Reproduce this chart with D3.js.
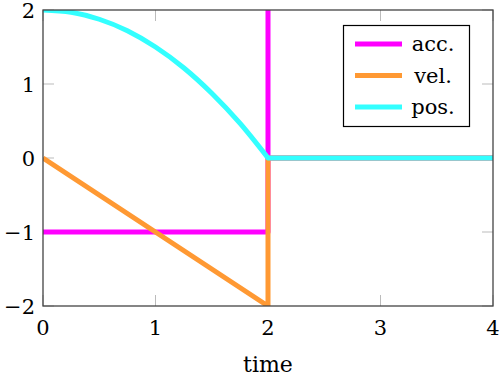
<!DOCTYPE html>
<html>
<head>
<meta charset="utf-8">
<script src="https://cdn.jsdelivr.net/npm/d3@7"></script>
<style>
  body { margin: 0; background: #fff; }
</style>
</head>
<body>
<svg id="chart" width="500" height="378"></svg>
<script>
// series: [time, value]
var accData = [[0, -1], [2, -1], [2, 40], [2, 0], [4, 0]];
var velData = [[0, 0], [2, -2], [2, 0], [4, 0]];
var posData = [[0, 2], [0.25, 1.97], [0.5, 1.875], [0.75, 1.72], [1, 1.5],
               [1.25, 1.22], [1.5, 0.875], [1.75, 0.47], [2, 0]];
var posTail = [[2, 0], [4, 0]];

var xTicks = [0, 1, 2, 3, 4];
var yTicks = [-2, -1, 0, 1, 2];
var seriesNames = ["acc.", "vel.", "pos."];
var seriesColors = ["#ff00ff", "#ff9933", "#33ffff"];

var svg = d3.select("#chart")
  .attr("font-family", "'DejaVu Serif', serif");
// plot box in pixels (note: "top" is taken by window.top)
var plotL = 43, plotR = 493, plotT = 10, plotB = 306;
var fontSize = 21;

var x = d3.scaleLinear().domain([0, 4]).range([plotL, plotR]);
var y = d3.scaleLinear().domain([-2, 2]).range([plotB, plotT]);

svg.append("defs").append("clipPath").attr("id", "plotclip")
  .append("rect")
    .attr("x", plotL).attr("y", plotT)
    .attr("width", plotR - plotL).attr("height", plotB - plotT);

// inner tick marks (gray)
var tickLen = 11;
var ticks = svg.append("g").attr("stroke", "#bbb").attr("stroke-width", 1);
xTicks.forEach(function(t) {
  ticks.append("line").attr("x1", x(t)).attr("x2", x(t)).attr("y1", plotB).attr("y2", plotB - tickLen);
  ticks.append("line").attr("x1", x(t)).attr("x2", x(t)).attr("y1", plotT).attr("y2", plotT + tickLen);
});
yTicks.forEach(function(t) {
  ticks.append("line").attr("x1", plotL).attr("x2", plotL + tickLen).attr("y1", y(t)).attr("y2", y(t));
  ticks.append("line").attr("x1", plotR).attr("x2", plotR - tickLen).attr("y1", y(t)).attr("y2", y(t));
});

// tick labels
svg.append("g").selectAll("text")
  .data(xTicks)
  .enter().append("text")
    .attr("x", function(d) { return x(d); })
    .attr("y", plotB + 29)
    .attr("text-anchor", "middle")
    .attr("font-size", fontSize)
    .text(function(d) { return d; });

svg.append("g").selectAll("text")
  .data(yTicks)
  .enter().append("text")
    .attr("x", plotL - 8)
    .attr("y", function(d) { return y(d) + 8; })
    .attr("text-anchor", "end")
    .attr("font-size", fontSize)
    .text(function(d) { return d < 0 ? "\u2212" + Math.abs(d) : d; });

svg.append("text")
  .attr("x", (plotL + plotR) / 2)
  .attr("y", 372)
  .attr("text-anchor", "middle")
  .attr("font-size", fontSize + 1)
  .text("time");

// lines
var line = d3.line()
  .x(function(d) { return x(d[0]); })
  .y(function(d) { return y(d[1]); });
var curve = d3.line()
  .x(function(d) { return x(d[0]); })
  .y(function(d) { return y(d[1]); })
  .curve(d3.curveMonotoneX);

var lines = svg.append("g").attr("clip-path", "url(#plotclip)");
function drawLine(d, color) {
  lines.append("path")
    .attr("d", d)
    .attr("fill", "none")
    .attr("stroke", color)
    .attr("stroke-width", 5)
    .attr("stroke-linejoin", "round");
}
drawLine(line(accData), seriesColors[0]);
drawLine(line(velData), seriesColors[1]);
drawLine(curve(posData) + line(posTail).replace("M", "L"), seriesColors[2]);

// frame
svg.append("rect")
  .attr("x", plotL).attr("y", plotT)
  .attr("width", plotR - plotL).attr("height", plotB - plotT)
  .attr("fill", "none")
  .attr("stroke", "#444")
  .attr("stroke-width", 1.3);

// legend
var legend = svg.append("g");
legend.append("rect")
  .attr("x", 343.5).attr("y", 25.5)
  .attr("width", 126).attr("height", 101)
  .attr("fill", "#fff")
  .attr("stroke", "#000")
  .attr("stroke-width", 1.2);

seriesNames.forEach(function(name, i) {
  var ly = 44 + i * 31.5;
  legend.append("line")
    .attr("x1", 355).attr("x2", 402)
    .attr("y1", ly).attr("y2", ly)
    .attr("stroke", seriesColors[i])
    .attr("stroke-width", 5);
  legend.append("text")
    .attr("x", 433)
    .attr("y", ly + 7)
    .attr("text-anchor", "middle")
    .attr("font-size", fontSize)
    .text(name);
});
</script>
</body>
</html>
